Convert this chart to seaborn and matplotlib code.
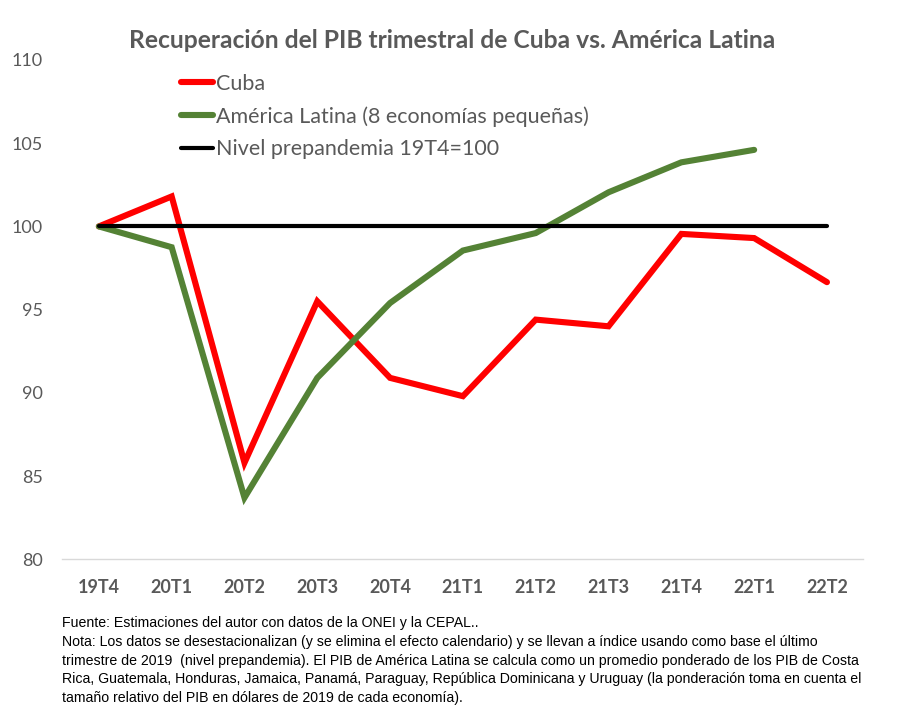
import matplotlib
matplotlib.use("Agg")
import matplotlib.pyplot as plt
import seaborn as sns
import pandas as pd
import numpy as np

quarters = ["19T4", "20T1", "20T2", "20T3", "20T4", "21T1", "21T2", "21T3", "21T4", "22T1", "22T2"]
cuba = [100.0, 101.8, 85.8, 95.5, 90.9, 89.8, 94.4, 94.0, 99.55, 99.3, 96.65]
latam = [100.0, 98.75, 83.7, 90.9, 95.4, 98.55, 99.6, 102.05, 103.85, 104.6, np.nan]
prepandemia = [100.0] * len(quarters)

series_names = ["Cuba", "América Latina (8 economías pequeñas)", "Nivel prepandemia 19T4=100"]
colors = ["#FF0000", "#548235", "#000000"]
widths = [4.4, 4.4, 3.0]

title = "Recuperación del PIB trimestral de Cuba vs. América Latina"
footnote = ("Fuente: Estimaciones del autor con datos de la ONEI y la CEPAL..\n"
            "Nota: Los datos se desestacionalizan (y se elimina el efecto calendario) y se llevan a índice usando como base el último\n"
            "trimestre de 2019  (nivel prepandemia). El PIB de América Latina se calcula como un promedio ponderado de los PIB de Costa\n"
            "Rica, Guatemala, Honduras, Jamaica, Panamá, Paraguay, República Dominicana y Uruguay (la ponderación toma en cuenta el\n"
            "tamaño relativo del PIB en dólares de 2019 de cada economía).")

sns.set_style("white")
plt.rcParams['font.family'] = ['Lato', 'DejaVu Sans']

gray = "#595959"
fig = plt.figure(figsize=(9.05, 7.2), dpi=100)
ax = fig.add_axes([0.069, 0.2232, 0.885, 0.6935])

pos = np.arange(len(quarters))
for name, vals, c, lw in zip(series_names, [cuba, latam, prepandemia], colors, widths):
    df = pd.DataFrame({"x": pos, "y": vals}).dropna()
    sns.lineplot(data=df, x="x", y="y", ax=ax, color=c, linewidth=lw, label=name,
                 sort=False, solid_capstyle="round", solid_joinstyle="miter")

ax.set_xlim(-0.5, len(quarters) - 0.5)
ax.set_ylim(80, 110)
ax.set_yticks([80, 85, 90, 95, 100, 105, 110])
ax.set_xticks(pos)
ax.set_xticklabels(quarters, fontweight="bold", color=gray, fontsize=13)
ax.set_xticks(np.arange(-0.5, len(quarters), 1.0), minor=True)
ax.tick_params(axis="x", which="major", length=0, pad=14)
ax.tick_params(axis="x", which="minor", length=6, color="#D9D9D9", width=1)
ax.tick_params(axis="y", length=0, labelsize=13, labelcolor=gray, pad=14)
ax.set_xlabel("")
ax.set_ylabel("")
for s in ["top", "right", "left"]:
    ax.spines[s].set_visible(False)
ax.spines["bottom"].set_color("#D9D9D9")
ax.spines["bottom"].set_linewidth(1)
ax.grid(False)

leg = ax.legend(loc="upper left", bbox_to_anchor=(0.137, 0.99), frameon=False,
                fontsize=15.5, handlelength=1.5, handletextpad=0.15, labelspacing=0.58,
                borderaxespad=0)
for t in leg.get_texts():
    t.set_color(gray)

fig.text(0.5, 0.944, title, ha="center", va="center", fontsize=17.7, fontweight="bold", color=gray)
fig.text(0.069, 0.145, footnote, ha="left", va="top", fontsize=10.2, color="#000000",
         family=['Liberation Sans'], linespacing=1.45)

fig.savefig("out.png", dpi=100)
